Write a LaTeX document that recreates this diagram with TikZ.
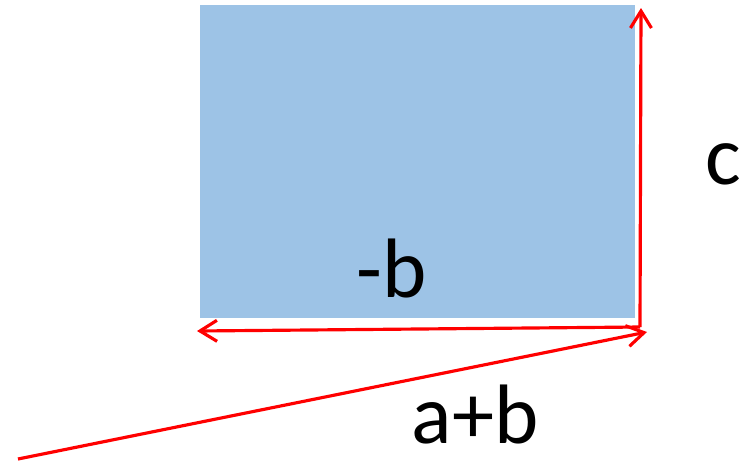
\documentclass[tikz,border=0pt]{standalone}
\usepackage{fontspec}
\setmainfont{Carlito}
\usepackage{tikz}
\usetikzlibrary{arrows.meta,positioning}
\definecolor{vbblue}{HTML}{9DC3E6}
\definecolor{vbred}{HTML}{FF0000}

\begin{document}
\begin{tikzpicture}[x=0.02cm,y=-0.02cm,
  lbl/.style={font=\fontsize{48}{54}\selectfont,inner sep=0pt},
  vec/.style={draw=vbred,line width=1.8pt,-{Straight Barb[length=3.4mm,width=4.2mm,line width=1.8pt]}}]
  \useasboundingbox (0,0) rectangle (747,461);
  \fill[vbblue] (200,5) rectangle (635,318);
  \coordinate (corner) at (640,327);
  \coordinate (top) at (641,8);
  \coordinate (left) at (197,331);
  \coordinate (start) at (18,459);
  \coordinate (tip) at (647,332);
  \draw[vec] (corner) -- (top);
  \draw[vec] (corner) -- (left);
  \draw[vec] (start) -- (tip);
  \node[lbl] (c) at (723,164) {c};
  \node[lbl] (mb) at (392,268) {-b};
  \node[lbl] (ab) at (475,415) {a+b};
\end{tikzpicture}
\end{document}
